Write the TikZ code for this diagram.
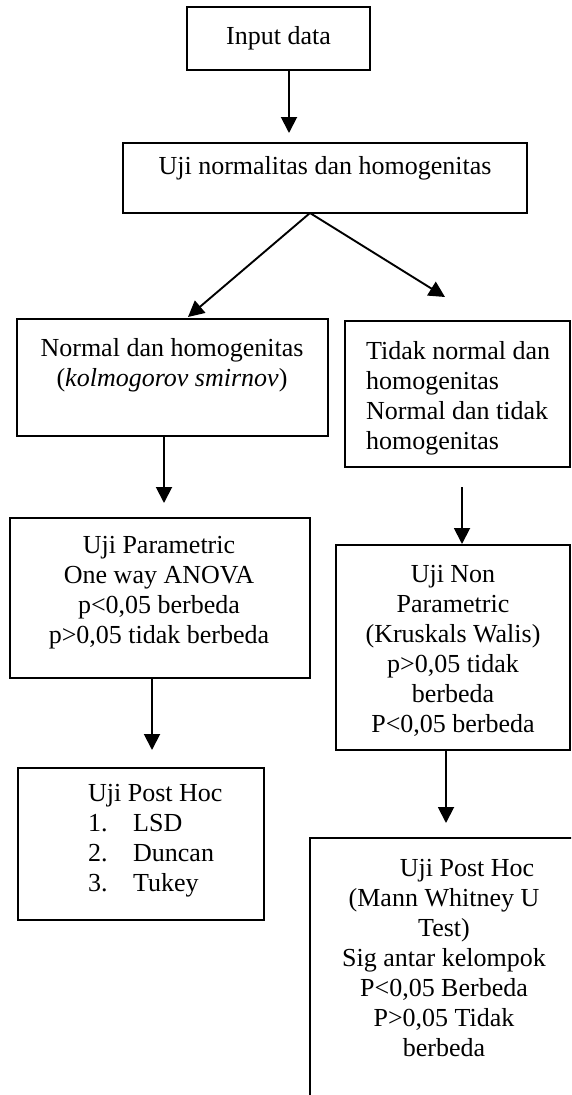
\documentclass[tikz,border=0pt]{standalone}
\usepackage{fontspec}
\setmainfont{Liberation Serif}
\usetikzlibrary{arrows.meta}
\begin{document}
\begin{tikzpicture}[x=1pt,y=1pt,
  font=\fontsize{26}{30}\selectfont,
  box/.style={draw, line width=1.8pt, rectangle, inner sep=0pt, outer sep=0pt, anchor=north west},
  lbl/.style={inner sep=0pt, align=center},
  arr/.style={line width=1.9pt, -{Triangle[length=16pt,width=16pt]}}]
\clip (0,0) rectangle (571,-1095);
\fill[white] (0,0) rectangle (571,-1095);

% boxes
\node[box, minimum width=183pt, minimum height=63pt] (input) at (187,-7) {Input data};
\node[box, minimum width=404pt, minimum height=70pt] (box2) at (123,-143) {};
\node[box, minimum width=311pt, minimum height=117pt] (normal) at (17,-319) {};
\node[box, minimum width=225pt, minimum height=146pt] (tidak) at (345,-321) {};
\node[box, minimum width=300pt, minimum height=160pt] (param) at (10,-518) {};
\node[box, minimum width=246pt, minimum height=152pt] (posthoc) at (18,-768) {};
\node[box, minimum width=234pt, minimum height=205pt] (nonparam) at (336,-545) {};
\node[box, minimum width=300pt, minimum height=292pt] (mann) at (310,-838) {};

% texts
\node[lbl] (t2) at (325,-168) {Uji normalitas dan homogenitas};
\node[lbl] (tn) at (172,-365) {Normal dan homogenitas\\(\textit{kolmogorov smirnov})};
\node[lbl, align=left, anchor=west] (tt) at (366,-398) {Tidak normal dan\\homogenitas\\Normal dan tidak\\homogenitas};
\node[lbl] (tp) at (159,-593) {Uji Parametric\\One way ANOVA\\p<0,05 berbeda\\p>0,05 tidak berbeda};
\node[lbl, align=left, anchor=west] (th) at (88,-841) {Uji Post Hoc\\\makebox[45pt][l]{1.}LSD\\\makebox[45pt][l]{2.}Duncan\\\makebox[45pt][l]{3.}Tukey};
\node[lbl] (tnp) at (453,-651) {Uji Non\\Parametric\\(Kruskals Walis)\\p>0,05 tidak\\berbeda\\P<0,05 berbeda};
\node[lbl] (tl) at (444,-958) {\hspace*{46pt}Uji Post Hoc\\(Mann Whitney U\\Test)\\Sig antar kelompok\\P<0,05 Berbeda\\P>0,05 Tidak\\berbeda};

% connector ends
\coordinate (a1) at (289,-133);
\coordinate (x310) at (310,0);
\coordinate (a2) at (188,-317);
\coordinate (a3) at (445,-297);
\coordinate (a4) at (164,-503);
\coordinate (s5) at (462,-487);
\coordinate (a5) at (462,-544);
\coordinate (a6) at (152,-750);
\coordinate (a7) at (446,-823);

\draw[arr] (input.south -| a1) -- (a1);
\draw[arr] (box2.south -| x310) -- (a2);
\draw[arr] (box2.south -| x310) -- (a3);
\draw[arr] (normal.south -| a4) -- (a4);
\draw[arr] (s5) -- (a5);
\draw[arr] (param.south -| a6) -- (a6);
\draw[arr] (nonparam.south -| a7) -- (a7);
\end{tikzpicture}
\end{document}
